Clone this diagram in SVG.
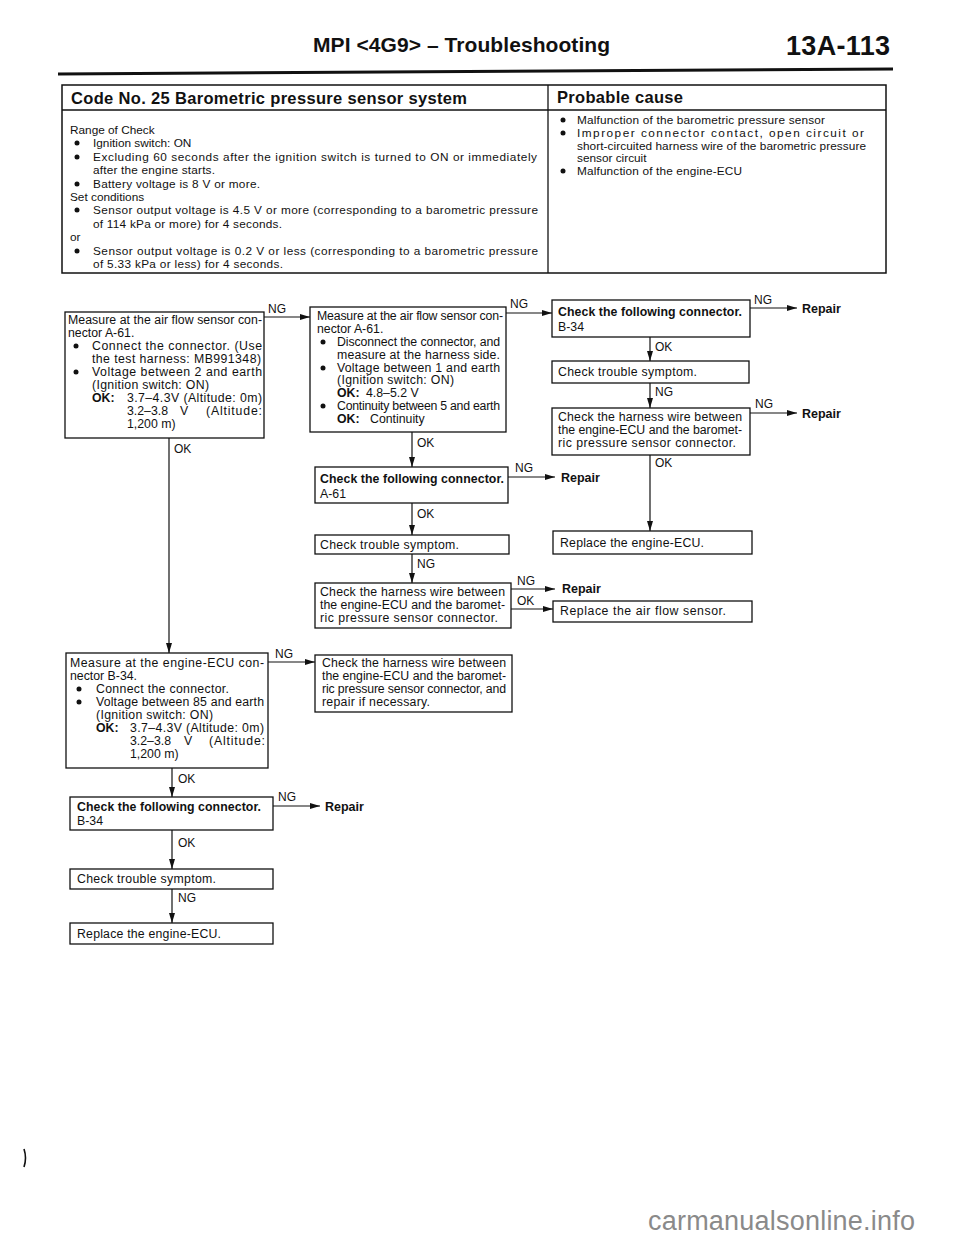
<svg xmlns="http://www.w3.org/2000/svg" width="960" height="1239" viewBox="0 0 960 1239">
<style>
text{font-family:"Liberation Sans",Arial,Helvetica,sans-serif;fill:#111}
.t{font-size:12.3px}
.tt{font-size:11.8px}
.b{font-weight:bold}
.lb{font-size:12px}
.rp{font-size:12.5px;font-weight:bold}
.cb{font-size:12.3px;font-weight:bold}
.box{fill:#fff;stroke:#111;stroke-width:1.3}
.cn{fill:none;stroke:#111;stroke-width:1.2}
.dot{fill:#111}
</style>
<defs>
<marker id="ah" markerWidth="11" markerHeight="8" refX="10" refY="4" orient="auto" markerUnits="userSpaceOnUse">
<path d="M0,1 L10,4 L0,7 z" fill="#111"/>
</marker>
</defs>
<rect width="960" height="1239" fill="#fff"/>

<g id="header">
<text x="313" y="52" class="b" style="font-size:21px" textLength="297">MPI &lt;4G9&gt; – Troubleshooting</text>
<text x="786" y="55" class="b" style="font-size:27px" textLength="104">13A-113</text>
<path d="M58,74 L893,69" stroke="#111" stroke-width="3" fill="none"/>
</g>

<g id="table">
<rect x="62" y="85" width="824" height="188" fill="none" stroke="#111" stroke-width="1.5"/>
<line x1="62" y1="110" x2="886" y2="110" stroke="#111" stroke-width="1.3"/>
<line x1="548" y1="85" x2="548" y2="273" stroke="#111" stroke-width="1.3"/>
<text x="71" y="104" class="b" style="font-size:16.5px" textLength="396">Code No. 25 Barometric pressure sensor system</text>
<text x="557" y="103" class="b" style="font-size:16.5px" textLength="126">Probable cause</text>
<text x="70" y="134" class="tt">Range of Check</text>
<circle class="dot" cx="77" cy="143" r="2.5"/><text x="93" y="147" class="tt">Ignition switch: ON</text>
<circle class="dot" cx="77" cy="157" r="2.5"/><text x="93" y="161" class="tt" textLength="444">Excluding 60 seconds after the ignition switch is turned to ON or immediately</text>
<text x="93" y="174" class="tt" textLength="122">after the engine starts.</text>
<circle class="dot" cx="77" cy="184" r="2.5"/><text x="93" y="188" class="tt" textLength="167">Battery voltage is 8 V or more.</text>
<text x="70" y="201" class="tt">Set conditions</text>
<circle class="dot" cx="77" cy="210" r="2.5"/><text x="93" y="214" class="tt" textLength="445">Sensor output voltage is 4.5 V or more (corresponding to a barometric pressure</text>
<text x="93" y="228" class="tt" textLength="189">of 114 kPa or more) for 4 seconds.</text>
<text x="70" y="241" class="tt">or</text>
<circle class="dot" cx="77" cy="251" r="2.5"/><text x="93" y="255" class="tt" textLength="445">Sensor output voltage is 0.2 V or less (corresponding to a barometric pressure</text>
<text x="93" y="268" class="tt" textLength="190">of 5.33 kPa or less) for 4 seconds.</text>
<circle class="dot" cx="563" cy="120" r="2.5"/><text x="577" y="124" class="tt" textLength="248">Malfunction of the barometric pressure sensor</text>
<circle class="dot" cx="563" cy="133" r="2.5"/><text x="577" y="137" class="tt" textLength="287">Improper connector contact, open circuit or</text>
<text x="577" y="150" class="tt" textLength="289">short-circuited harness wire of the barometric pressure</text>
<text x="577" y="162" class="tt">sensor circuit</text>
<circle class="dot" cx="563" cy="171" r="2.5"/><text x="577" y="175" class="tt" textLength="165">Malfunction of the engine-ECU</text>
</g>

<g id="connectors">
<path class="cn" d="M264,317 H310" marker-end="url(#ah)"/>
<text x="268" y="313" class="lb">NG</text>
<path class="cn" d="M506,313 H552" marker-end="url(#ah)"/>
<text x="510" y="308" class="lb">NG</text>
<path class="cn" d="M750,308 H797" marker-end="url(#ah)"/>
<text x="754" y="304" class="lb">NG</text>
<text x="802" y="313" class="rp">Repair</text>
<path class="cn" d="M650,337 V361" marker-end="url(#ah)"/>
<text x="655" y="351" class="lb">OK</text>
<path class="cn" d="M650,383 V408" marker-end="url(#ah)"/>
<text x="655" y="396" class="lb">NG</text>
<path class="cn" d="M750,413 H797" marker-end="url(#ah)"/>
<text x="755" y="408" class="lb">NG</text>
<text x="802" y="418" class="rp">Repair</text>
<path class="cn" d="M650,455 V531" marker-end="url(#ah)"/>
<text x="655" y="467" class="lb">OK</text>
<path class="cn" d="M412,432 V467" marker-end="url(#ah)"/>
<text x="417" y="447" class="lb">OK</text>
<path class="cn" d="M508,477 H555" marker-end="url(#ah)"/>
<text x="515" y="472" class="lb">NG</text>
<text x="561" y="482" class="rp">Repair</text>
<path class="cn" d="M412,503 V535" marker-end="url(#ah)"/>
<text x="417" y="518" class="lb">OK</text>
<path class="cn" d="M412,554 V583" marker-end="url(#ah)"/>
<text x="417" y="568" class="lb">NG</text>
<path class="cn" d="M511,589 H555" marker-end="url(#ah)"/>
<text x="517" y="585" class="lb">NG</text>
<text x="562" y="593" class="rp">Repair</text>
<path class="cn" d="M511,609 H553" marker-end="url(#ah)"/>
<text x="517" y="605" class="lb">OK</text>
<path class="cn" d="M169,438 V653" marker-end="url(#ah)"/>
<text x="174" y="453" class="lb">OK</text>
<path class="cn" d="M268,662 H315" marker-end="url(#ah)"/>
<text x="275" y="658" class="lb">NG</text>
<path class="cn" d="M172,768 V797" marker-end="url(#ah)"/>
<text x="178" y="783" class="lb">OK</text>
<path class="cn" d="M273,806 H320" marker-end="url(#ah)"/>
<text x="278" y="801" class="lb">NG</text>
<text x="325" y="811" class="rp">Repair</text>
<path class="cn" d="M172,830 V869" marker-end="url(#ah)"/>
<text x="178" y="847" class="lb">OK</text>
<path class="cn" d="M172,889 V923" marker-end="url(#ah)"/>
<text x="178" y="902" class="lb">NG</text>
</g>

<g id="node-A">
<rect class="box" x="65" y="312" width="199" height="126"/>
<text x="68" y="324" class="t" textLength="194">Measure at the air flow sensor con-</text>
<text x="68" y="337" class="t">nector A-61.</text>
<circle class="dot" cx="76" cy="346" r="2.5"/><text x="92" y="350" class="t" textLength="170">Connect the connector. (Use</text>
<text x="92" y="363" class="t" textLength="169">the test harness: MB991348)</text>
<circle class="dot" cx="76" cy="372" r="2.5"/><text x="92" y="376" class="t" textLength="170">Voltage between 2 and earth</text>
<text x="92" y="389" class="t" textLength="117">(Ignition switch: ON)</text>
<text x="92" y="402" class="t b">OK:</text><text x="127" y="402" class="t" textLength="135">3.7–4.3V (Altitude: 0m)</text>
<text x="127" y="415" class="t">3.2–3.8</text><text x="180" y="415" class="t">V</text><text x="206" y="415" class="t" textLength="56">(Altitude:</text>
<text x="127" y="428" class="t">1,200 m)</text>
</g>

<g id="node-B">
<rect class="box" x="310" y="307" width="196" height="125"/>
<text x="317" y="320" class="t" textLength="186">Measure at the air flow sensor con-</text>
<text x="317" y="333" class="t">nector A-61.</text>
<circle class="dot" cx="323" cy="342" r="2.5"/><text x="337" y="346" class="t" textLength="163">Disconnect the connector, and</text>
<text x="337" y="359" class="t" textLength="163">measure at the harness side.</text>
<circle class="dot" cx="323" cy="368" r="2.5"/><text x="337" y="372" class="t" textLength="163">Voltage between 1 and earth</text>
<text x="337" y="384" class="t" textLength="117">(Ignition switch: ON)</text>
<text x="337" y="397" class="t b">OK:</text><text x="366" y="397" class="t">4.8–5.2 V</text>
<circle class="dot" cx="323" cy="406" r="2.5"/><text x="337" y="410" class="t" textLength="163">Continuity between 5 and earth</text>
<text x="337" y="423" class="t b">OK:</text><text x="370" y="423" class="t">Continuity</text>
</g>

<g id="node-C">
<rect class="box" x="552" y="300" width="198" height="37"/>
<text x="558" y="316" class="cb" textLength="184">Check the following connector.</text>
<text x="558" y="331" class="t">B-34</text>
</g>

<g id="node-D">
<rect class="box" x="552" y="361" width="197" height="22"/>
<text x="558" y="376" class="t" textLength="139">Check trouble symptom.</text>
</g>

<g id="node-E">
<rect class="box" x="552" y="408" width="198" height="47"/>
<text x="558" y="421" class="t" textLength="184">Check the harness wire between</text>
<text x="558" y="434" class="t" textLength="184">the engine-ECU and the baromet-</text>
<text x="558" y="447" class="t" textLength="178">ric pressure sensor connector.</text>
</g>

<g id="node-replace-ecu-1">
<rect class="box" x="553" y="531" width="199" height="23"/>
<text x="560" y="547" class="t" textLength="144">Replace the engine-ECU.</text>
</g>

<g id="node-F">
<rect class="box" x="315" y="467" width="193" height="36"/>
<text x="320" y="483" class="cb" textLength="184">Check the following connector.</text>
<text x="320" y="498" class="t">A-61</text>
</g>

<g id="node-G">
<rect class="box" x="315" y="535" width="194" height="19"/>
<text x="320" y="549" class="t" textLength="139">Check trouble symptom.</text>
</g>

<g id="node-H">
<rect class="box" x="315" y="583" width="196" height="45"/>
<text x="320" y="596" class="t" textLength="185">Check the harness wire between</text>
<text x="320" y="609" class="t" textLength="185">the engine-ECU and the baromet-</text>
<text x="320" y="622" class="t" textLength="178">ric pressure sensor connector.</text>
</g>

<g id="node-I">
<rect class="box" x="553" y="601" width="199" height="21"/>
<text x="560" y="615" class="t" textLength="166">Replace the air flow sensor.</text>
</g>

<g id="node-J">
<rect class="box" x="66" y="653" width="202" height="115"/>
<text x="70" y="667" class="t" textLength="194">Measure at the engine-ECU con-</text>
<text x="70" y="680" class="t">nector B-34.</text>
<circle class="dot" cx="79" cy="689" r="2.5"/><text x="96" y="693" class="t" textLength="133">Connect the connector.</text>
<circle class="dot" cx="79" cy="702" r="2.5"/><text x="96" y="706" class="t" textLength="168">Voltage between 85 and earth</text>
<text x="96" y="719" class="t" textLength="117">(Ignition switch: ON)</text>
<text x="96" y="732" class="t b">OK:</text><text x="130" y="732" class="t" textLength="134">3.7–4.3V (Altitude: 0m)</text>
<text x="130" y="745" class="t">3.2–3.8</text><text x="184" y="745" class="t">V</text><text x="209" y="745" class="t" textLength="56">(Altitude:</text>
<text x="130" y="758" class="t">1,200 m)</text>
</g>

<g id="node-K">
<rect class="box" x="315" y="655" width="197" height="57"/>
<text x="322" y="667" class="t" textLength="184">Check the harness wire between</text>
<text x="322" y="680" class="t" textLength="184">the engine-ECU and the baromet-</text>
<text x="322" y="693" class="t" textLength="184">ric pressure sensor connector, and</text>
<text x="322" y="706" class="t" textLength="108">repair if necessary.</text>
</g>

<g id="node-L">
<rect class="box" x="70" y="797" width="203" height="33"/>
<text x="77" y="811" class="cb" textLength="184">Check the following connector.</text>
<text x="77" y="825" class="t">B-34</text>
</g>

<g id="node-M">
<rect class="box" x="70" y="869" width="203" height="20"/>
<text x="77" y="883" class="t" textLength="139">Check trouble symptom.</text>
</g>

<g id="node-N">
<rect class="box" x="70" y="923" width="203" height="21"/>
<text x="77" y="938" class="t" textLength="144">Replace the engine-ECU.</text>
</g>

<path d="M24,1149 Q27,1158 24,1167" stroke="#111" stroke-width="1.6" fill="none"/>
<text x="648" y="1230" style="font-size:27px;fill:#8a8a8a" textLength="267">carmanualsonline.info</text>
</svg>
